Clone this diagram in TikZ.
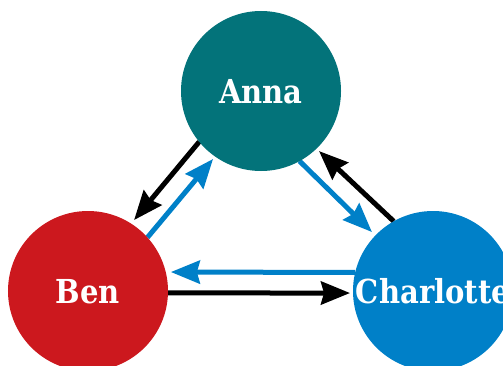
\documentclass[tikz,border=0pt]{standalone}
\usepackage{fontspec}
\setmainfont{DejaVu Serif}
\newfontfamily\labelfont[FakeStretch=0.88]{DejaVu Serif}
\usetikzlibrary{arrows.meta,calc,backgrounds}
\definecolor{annateal}{RGB}{3,115,122}
\definecolor{benred}{RGB}{204,24,30}
\definecolor{cblue}{RGB}{0,128,200}
\begin{document}
\begin{tikzpicture}[x=1bp,y=1bp,
  person/.style={circle,minimum size=160bp,inner sep=0pt,text=white,
    font=\labelfont\bfseries\fontsize{33bp}{33bp}\selectfont,text height=24bp,text depth=0pt},
  link/.style={line width=5bp,-{Stealth[length=29bp,width=23bp,inset=3bp]}},
  blk/.style={link,draw=black},
  blu/.style={link,draw=cblue}]
\useasboundingbox (0,0) rectangle (503,365);
\clip (0,0) rectangle (503,365);
\node[person,fill=annateal] (anna) at (261,274) {Anna};
\node[person,fill=benred] (ben) at (88,74) {Ben};
\node[person,fill=cblue] (charlotte) at (433,74) {Charlotte};
\begin{scope}[on background layer]
\draw[blk] ($(anna)+(219.4:80)$) -- ($(ben)+(57:84.6)$);
\draw[blu] ($(ben)+(42:80)$) -- ($(anna)+(234.8:83.2)$);
\draw[blu] ($(anna)+(-61.2:80)$) -- ($(charlotte)+(136:84.9)$);
\draw[blk] ($(charlotte)+(119.4:80)$) -- ($(anna)+(-46:83.5)$);
\draw[blu] ($(charlotte)+(166.6:80)$) -- ($(ben)+(12.9:85)$);
\draw[blk] ($(ben)+(-1.4:80)$) -- ($(charlotte)+(181.4:83)$);
\end{scope}
\end{tikzpicture}
\end{document}
